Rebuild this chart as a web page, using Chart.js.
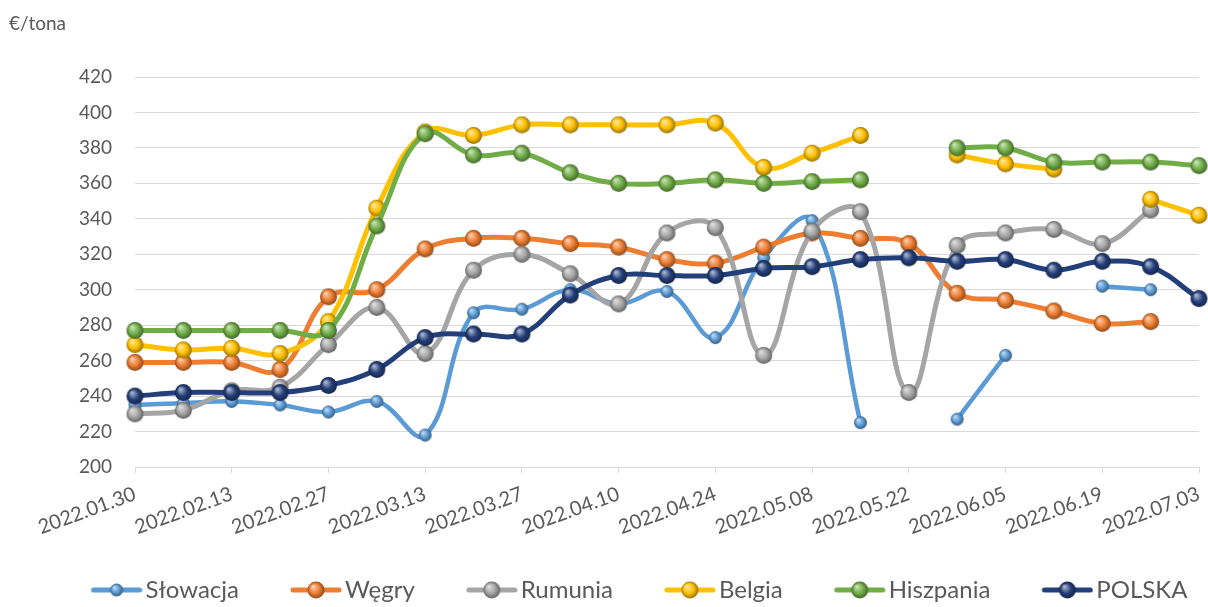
<!DOCTYPE html>
<html>
<head>
<meta charset="utf-8">
<script src="https://cdn.jsdelivr.net/npm/chart.js@4.4.1/dist/chart.umd.min.js"></script>
<style>
  body { margin: 0; background: #fff; }
</style>
</head>
<body>
<canvas id="chart" width="1208" height="607"></canvas>
<script>
var dates = ['2022.01.30','2022.02.06','2022.02.13','2022.02.20','2022.02.27','2022.03.06',
    '2022.03.13','2022.03.20','2022.03.27','2022.04.03','2022.04.10','2022.04.17',
    '2022.04.24','2022.05.01','2022.05.08','2022.05.15','2022.05.22','2022.05.29',
    '2022.06.05','2022.06.12','2022.06.19','2022.06.26','2022.07.03'];

var slowacja  = [235, 236, 237, 235, 231, 237, 218, 287, 289, 300, 292, 299, 273, 318, 339, 225, null, 227, 263, null, 302, 300, null];
var wegry     = [259, 259, 259, 255, 296, 300, 323, 329, 329, 326, 324, 317, 315, 324, 332, 329, 326, 298, 294, 288, 281, 282, null];
var rumunia   = [230, 232, 243, 245, 269, 290, 264, 311, 320, 309, 292, 332, 335, 263, 333, 344, 242, 325, 332, 334, 326, 345, null];
var belgia    = [269, 266, 267, 264, 282, 346, 389, 387, 393, 393, 393, 393, 394, 369, 377, 387, null, 376, 371, 368, null, 351, 342];
var hiszpania = [277, 277, 277, 277, 277, 336, 388, 376, 377, 366, 360, 360, 362, 360, 361, 362, null, 380, 380, 372, 372, 372, 370];
var polska    = [240, 242, 242, 242, 246, 255, 273, 275, 275, 297, 308, 308, 308, 312, 313, 317, 318, 316, 317, 311, 316, 313, 295];

var seriesNames = ['Słowacja', 'Węgry', 'Rumunia', 'Belgia', 'Hiszpania', 'POLSKA'];
var seriesData = [slowacja, wegry, rumunia, belgia, hiszpania, polska];
var seriesColors = ['#5B9BD5', '#ED7D31', '#A5A5A5', '#FFC000', '#70AD47', '#233F7A'];
var ballSizes = [13, 17, 17, 17, 17, 17];

var FONT = 'Lato, "Open Sans", sans-serif';
var TEXT = '#595959';
var LEGEND_FONT = 24;
var LEGEND_BOX = 58;

var shade = function(hex, amt) {
    var n = parseInt(hex.slice(1), 16);
    var r = n >> 16, g = (n >> 8) & 255, b = n & 255;
    var t = amt > 0 ? 255 : 0;
    var a = Math.abs(amt);
    r = Math.round(r + (t - r) * a);
    g = Math.round(g + (t - g) * a);
    b = Math.round(b + (t - b) * a);
    return 'rgb(' + r + ',' + g + ',' + b + ')';
};

// little shaded ball, like the excel markers
var drawBall = function(g, cx, cy, d, color) {
    var r = d / 2;
    var grad = g.createRadialGradient(cx - r * 0.35, cy - r * 0.4, r * 0.1, cx, cy, r);
    grad.addColorStop(0, shade(color, 0.6));
    grad.addColorStop(0.55, color);
    grad.addColorStop(1, shade(color, -0.4));
    g.beginPath();
    g.arc(cx, cy, r, 0, Math.PI * 2);
    g.fillStyle = grad;
    g.fill();
};

var makeBall = function(color, d) {
    var c = document.createElement('canvas');
    c.width = d + 2;
    c.height = d + 2;
    drawBall(c.getContext('2d'), (d + 2) / 2, (d + 2) / 2, d, color);
    return c;
};

// legend image is centred on the box, so the visible icon sits at its right end
var makeLegendIcon = function(color, d) {
    var w = LEGEND_BOX + LEGEND_FONT - 6;
    var c = document.createElement('canvas');
    c.width = w;
    c.height = 20;
    var g = c.getContext('2d');
    var x0 = w - 52;
    g.strokeStyle = color;
    g.lineWidth = 5;
    g.lineCap = 'round';
    g.beginPath();
    g.moveTo(x0 + 3, 10);
    g.lineTo(x0 + 49, 10);
    g.stroke();
    drawBall(g, x0 + 26, 10, d, color);
    return c;
};

var legendIcons = [];
var datasets = [];
for (var i = 0; i < seriesNames.length; i++) {
    legendIcons.push(makeLegendIcon(seriesColors[i], ballSizes[i]));
    datasets.push({
        label: seriesNames[i],
        data: seriesData[i],
        borderColor: seriesColors[i],
        backgroundColor: seriesColors[i],
        borderWidth: i === 0 ? 4.5 : 5,
        pointStyle: makeBall(seriesColors[i], ballSizes[i]),
        tension: 0.4,
        spanGaps: false,
        clip: false,
        order: seriesNames.length - i   // later series drawn on top
    });
}

var unitLabel = {
    id: 'unitLabel',
    afterLayout: function(chart) {
        // nudge the legend to where excel put it
        chart.legend.left += 30;
        chart.legend.right += 30;
        chart.legend.top += 5;
        chart.legend.bottom += 5;
    },
    afterDraw: function(chart) {
        var ctx = chart.ctx;
        ctx.save();
        ctx.font = '19px ' + FONT;
        ctx.fillStyle = TEXT;
        ctx.textBaseline = 'alphabetic';
        ctx.fillText('€/tona', 9, 30);
        ctx.restore();
    }
};

new Chart(document.getElementById('chart'), {
    type: 'line',
    data: {
        labels: dates,
        datasets: datasets
    },
    options: {
        responsive: false,
        animation: false,
        layout: { padding: { left: 0, right: 5, top: 77, bottom: 0 } },
        scales: {
            x: {
                grid: {
                    drawOnChartArea: false,
                    drawTicks: true,
                    tickLength: 6,
                    color: function(c) { return c.index % 2 === 0 ? '#d9d9d9' : 'rgba(0,0,0,0)'; }
                },
                border: { color: '#d9d9d9', width: 1 },
                ticks: {
                    autoSkip: false,
                    maxRotation: 20,
                    minRotation: 20,
                    padding: 9,
                    color: TEXT,
                    font: { family: FONT, size: 20 },
                    callback: function(v, idx) { return idx % 2 === 0 ? dates[idx] : ''; }
                },
                afterFit: function(s) {
                    s.height = 70;
                    s.paddingLeft = 0;
                    s.paddingRight = 0;
                }
            },
            y: {
                min: 200,
                max: 420,
                ticks: {
                    stepSize: 20,
                    padding: 23,
                    color: TEXT,
                    font: { family: FONT, size: 19 }
                },
                grid: { color: '#d9d9d9', drawTicks: false },
                border: { display: false },
                afterFit: function(s) { s.width = 135; }
            }
        },
        plugins: {
            tooltip: { enabled: false },
            legend: {
                position: 'bottom',
                labels: {
                    usePointStyle: true,
                    pointStyleWidth: LEGEND_BOX,
                    padding: 36,
                    color: TEXT,
                    font: { family: FONT, size: LEGEND_FONT },
                    generateLabels: function(chart) {
                        return chart.data.datasets.map(function(ds, k) {
                            return {
                                text: ds.label,
                                pointStyle: legendIcons[k],
                                fillStyle: ds.borderColor,
                                strokeStyle: ds.borderColor,
                                lineWidth: 0,
                                hidden: false,
                                fontColor: TEXT,
                                datasetIndex: k
                            };
                        });
                    }
                }
            }
        }
    },
    plugins: [unitLabel]
});
</script>
</body>
</html>
